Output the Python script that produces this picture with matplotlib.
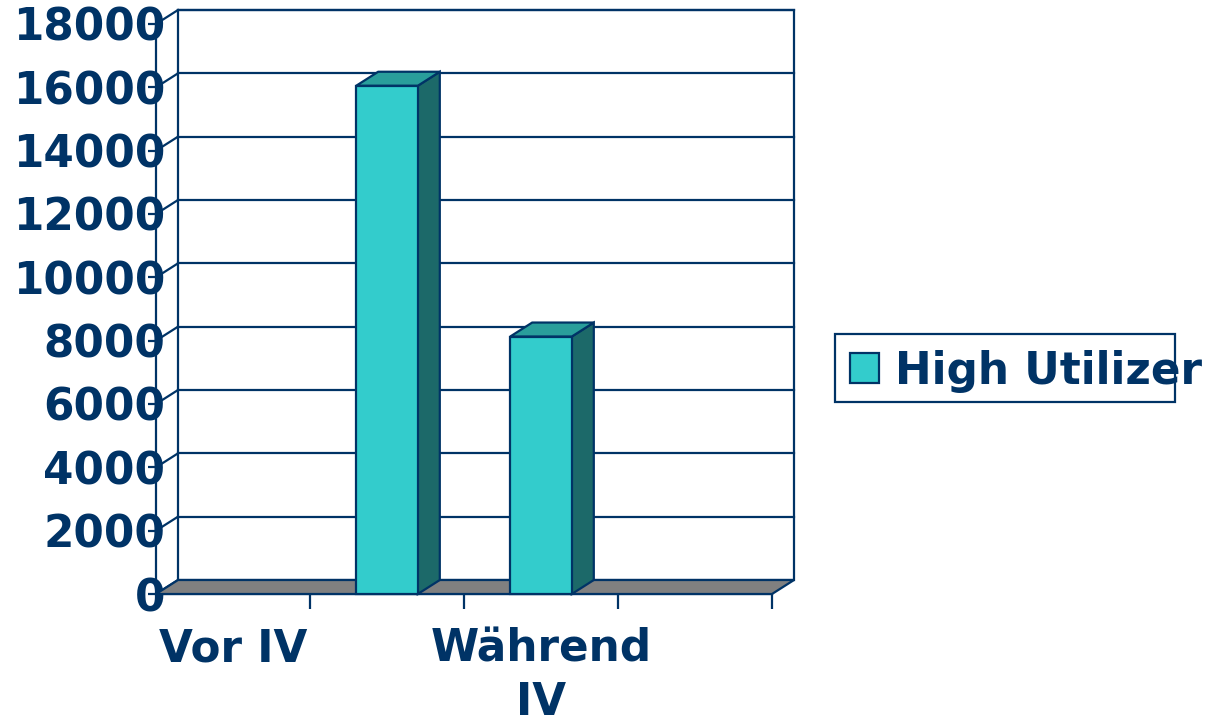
import matplotlib
matplotlib.use("Agg")
import matplotlib.pyplot as plt
from matplotlib.patches import Polygon, Rectangle, Patch
from matplotlib.lines import Line2D

# ---------------- data ----------------
categories = ["Vor IV", "", "Während IV", ""]
tick_labels = ["Vor IV", "", "Während\nIV", ""]
values = [None, 16050, 8130, None]
series_name = "High Utilizer"
y_ticks = list(range(0, 18001, 2000))
y_max = 18000

# ---------------- style ----------------
NAVY = "#003366"
FRONT = "#33CCCC"
TOP = "#299E9B"
SIDE = "#1C6969"
FLOOR = "#808080"
FS = 31.5
plt.rcParams["font.family"] = ["DejaVu Sans"]

W, H = 1209, 724
fig = plt.figure(figsize=(W / 100, H / 100), dpi=100)
x0, x1 = 156, 772      # front plane in pixels
yb, yt = 594, 24
ax = fig.add_axes([x0 / W, 1 - yb / H, (x1 - x0) / W, (yb - yt) / H])
n = len(categories)
ax.set_xlim(0, n)
ax.set_ylim(0, y_max)
ax.patch.set_visible(False)
for s in ax.spines.values():
    s.set_visible(False)

# depth offsets (data units)
DX = 22 / (x1 - x0) * n
DY = 14 / (yb - yt) * y_max
LW = 1.6

# back wall
ax.add_patch(Rectangle((DX, DY), n, y_max, facecolor="white", edgecolor=NAVY,
                       lw=LW, zorder=1, clip_on=False))
# gridlines (back wall + side wall diagonals)
for v in y_ticks:
    if v > 0:
        ax.add_line(Line2D([DX, n + DX], [v + DY, v + DY], color=NAVY, lw=LW,
                           zorder=2, clip_on=False))
    ax.add_line(Line2D([0, DX], [v, v + DY], color=NAVY, lw=LW, zorder=2,
                       clip_on=False))

# floor
ax.add_patch(Polygon([(0, 0), (n, 0), (n + DX, DY), (DX, DY)], closed=True,
                     facecolor=FLOOR, edgecolor=NAVY, lw=LW, zorder=3,
                     clip_on=False))

# bars
hw = 0.2
for i, v in enumerate(values):
    if v is None:
        continue
    c = i + 0.5
    l, r = c - hw, c + hw
    ax.add_patch(Polygon([(r, 0), (r + DX, DY), (r + DX, v + DY), (r, v)],
                         closed=True, facecolor=SIDE, edgecolor=NAVY, lw=LW,
                         zorder=4, clip_on=False))
    ax.add_patch(Polygon([(l, v), (r, v), (r + DX, v + DY), (l + DX, v + DY)],
                         closed=True, facecolor=TOP, edgecolor=NAVY, lw=LW,
                         zorder=4, clip_on=False))
    ax.bar(c, v, width=2 * hw, bottom=0, color=FRONT, edgecolor=NAVY,
           linewidth=LW, zorder=5, clip_on=False)

# axes (front)
ax.spines["left"].set_visible(True)
ax.spines["left"].set_color(NAVY)
ax.spines["left"].set_linewidth(LW)
ax.spines["left"].set_zorder(6)
ax.spines["bottom"].set_visible(True)
ax.spines["bottom"].set_color(NAVY)
ax.spines["bottom"].set_linewidth(LW)

ax.set_yticks(y_ticks)
ax.set_yticklabels([str(v) for v in y_ticks])
ax.tick_params(axis="y", length=6, width=LW, color=NAVY, direction="out",
               pad=-12.5, labelsize=FS, labelcolor=NAVY)
for t in ax.get_yticklabels():
    t.set_fontweight("bold")

ax.set_xticks([i + 0.5 for i in range(n)])
ax.set_xticklabels(tick_labels)
ax.set_xticks(list(range(n + 1)), minor=True)
ax.tick_params(axis="x", which="major", length=0, pad=24, labelsize=FS,
               labelcolor=NAVY)
ax.tick_params(axis="x", which="minor", length=11, width=LW, color=NAVY,
               direction="out")
for t in ax.get_xticklabels():
    t.set_fontweight("bold")
    t.set_linespacing(1.3)

# legend
leg = ax.legend(handles=[Patch(facecolor=FRONT, edgecolor=NAVY, lw=LW,
                               label=series_name)],
                loc="center left", bbox_to_anchor=(850 / W, 1 - 371 / H),
                bbox_transform=fig.transFigure, frameon=False, borderpad=0,
                borderaxespad=0, handlelength=0.66, handleheight=0.66,
                handletextpad=0.36, prop={"size": FS, "weight": "bold"})
for t in leg.get_texts():
    t.set_color(NAVY)
fig.add_artist(Rectangle((835 / W, 1 - 402 / H), 340 / W, 68 / H,
                         transform=fig.transFigure, facecolor="none",
                         edgecolor=NAVY, lw=LW))

fig.savefig("out.png", dpi=100)
